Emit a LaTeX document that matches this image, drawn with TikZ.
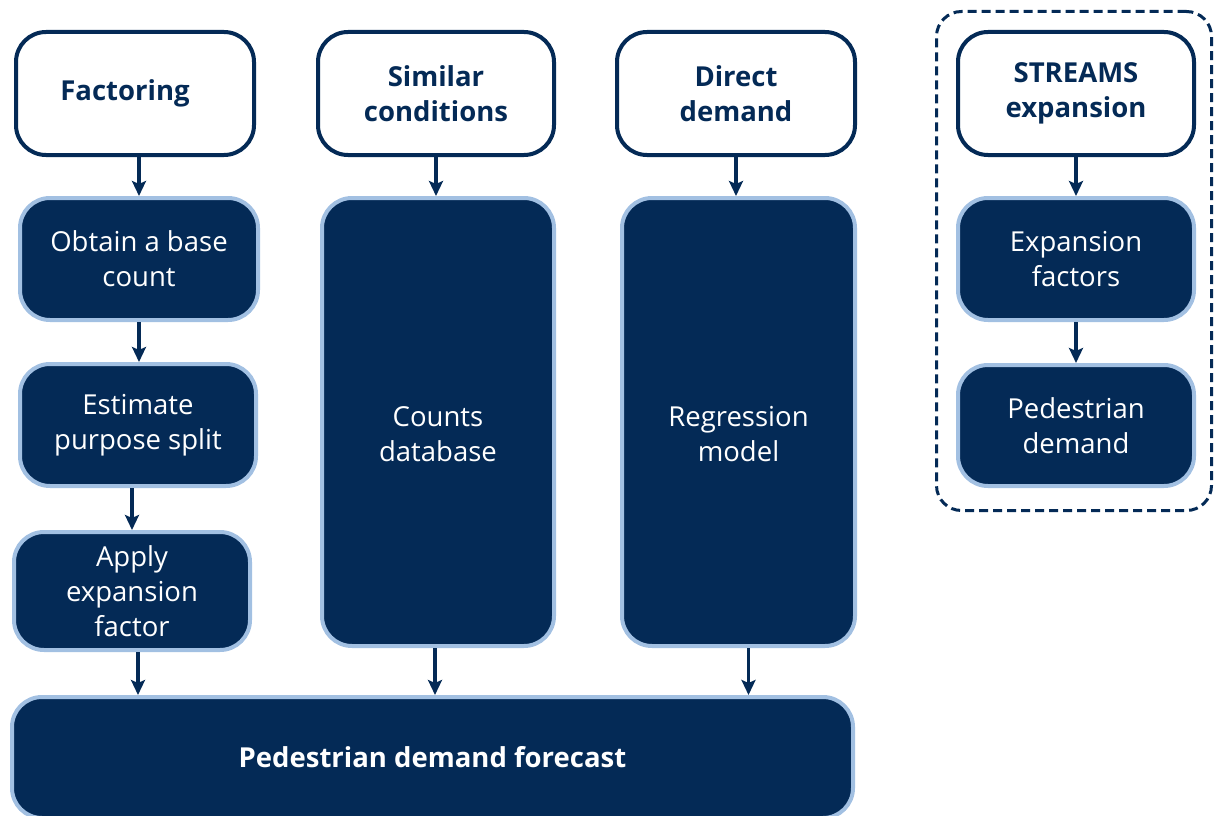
\documentclass[tikz,border=0pt]{standalone}
\usepackage{fontspec}
\setmainfont{Open Sans}
\usetikzlibrary{arrows.meta}
\definecolor{navy}{HTML}{042A56}
\definecolor{paleblue}{HTML}{A2C0E2}
\tikzset{
  method/.style={draw=navy, line width=4pt, fill=white, rounded corners=30pt,
    text=navy, font=\bfseries\fontsize{27.5}{35}\selectfont, align=center, inner sep=0pt},
  task/.style={draw=paleblue, line width=4pt, fill=navy, rounded corners=30pt,
    text=white, font=\fontsize{27.5}{35}\selectfont, align=center, inner sep=0pt},
  tasktext/.style={text=white, font=\fontsize{27.5}{35}\selectfont, align=center, inner sep=0pt},
  flow/.style={navy, line width=3.5pt, -{Stealth[length=15pt,width=14pt,inset=3pt]}},
}
\begin{document}
\begin{tikzpicture}[x=1pt,y=-1pt]
  \useasboundingbox (0,0) rectangle (1215,816);
  % method headings
  \node[method, minimum width=238pt, minimum height=123pt] (factoring) at (135,93.5) {Factoring\hspace*{20pt}};
  \node[method, minimum width=236pt, minimum height=123pt] (similar) at (436,93.5) {Similar\\conditions};
  \node[method, minimum width=238pt, minimum height=123pt] (direct) at (736,93.5) {Direct\\demand};
  \node[method, minimum width=236pt, minimum height=123pt] (streams) at (1076,93.5) {STREAMS\\expansion};
  % steps
  \node[task, minimum width=238pt, minimum height=122pt] (obtain) at (139,259) {Obtain a base\\count};
  \node[task, minimum width=236pt, minimum height=122pt] (estimate) at (138,425) {Estimate\\purpose split};
  \node[task, minimum width=236pt, minimum height=118pt] (apply) at (132,591) {Apply\\expansion\\factor};
  \node[task, minimum width=232pt, minimum height=448pt] (counts) at (438,422) {};
  \node[tasktext] (countstext) at ([yshift=-12pt]counts.center) {Counts\\database};
  \node[task, minimum width=233pt, minimum height=448pt] (regression) at (738.5,422) {};
  \node[tasktext] (regressiontext) at ([yshift=-12pt]regression.center) {Regression\\model};
  \node[task, minimum width=236pt, minimum height=122pt] (expfactors) at (1076,259) {Expansion\\factors};
  \node[task, minimum width=236pt, minimum height=121pt] (peddemand) at (1076,425.5) {Pedestrian\\demand};
  \node[task, minimum width=841pt, minimum height=121pt, font=\bfseries\fontsize{27.5}{35}\selectfont] (forecast) at (432.5,757.5) {Pedestrian demand forecast};
  % STREAMS frame
  \node[draw=navy, line width=3pt, dash pattern=on 9pt off 5pt, rounded corners=25pt,
    minimum width=275pt, minimum height=499pt] (frame) at (1074,261) {};
  % connectors
  \draw[flow] (obtain.north |- factoring.south) -- (obtain.north);
  \draw[flow] (obtain.south) -- (obtain.south |- estimate.north);
  \draw[flow] (apply.north |- estimate.south) -- (apply.north);
  \draw[flow] ([xshift=6pt]apply.south) -- ([xshift=6pt]apply.south |- forecast.north);
  \draw[flow] (similar.south) -- (similar.south |- counts.north);
  \draw[flow] ([xshift=-3pt]counts.south) -- ([xshift=-3pt]counts.south |- forecast.north);
  \draw[flow] (direct.south) -- (direct.south |- regression.north);
  \draw[flow] ([xshift=10pt]regression.south) -- ([xshift=10pt]regression.south |- forecast.north);
  \draw[flow] (streams.south) -- (expfactors.north);
  \draw[flow] (expfactors.south) -- (peddemand.north);
\end{tikzpicture}
\end{document}
